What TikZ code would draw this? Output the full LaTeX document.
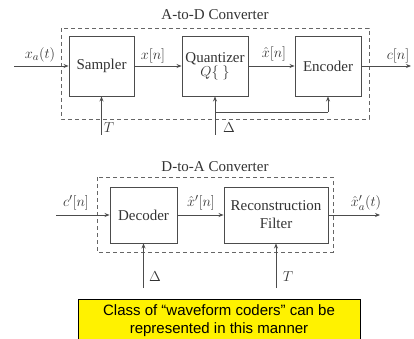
\documentclass[tikz,border=0pt]{standalone}
\usepackage{fontspec}
\setmainfont{Liberation Serif}
\newfontfamily\notefont{Liberation Sans}
\usetikzlibrary{arrows.meta}
\tikzset{
  blockbox/.style={draw=black!70,line width=0.9pt,text=black!80,align=center,inner sep=0pt},
  sig/.style={draw=black!70,line width=0.9pt,-{Stealth[length=5pt,width=4pt]}},
  wire/.style={draw=black!70,line width=0.9pt},
  lbl/.style={text=black!80,inner sep=0pt},
  convbox/.style={draw=black!60,line width=0.9pt,dash pattern=on 4pt off 3pt}
}
\begin{document}
\begin{tikzpicture}[x=1pt,y=-1pt,font=\fontsize{15}{16}\selectfont]
  \useasboundingbox (0,0) rectangle (414,339);
  \clip (0,0) rectangle (414,339);
  % A-to-D
  \node[lbl] (adtitle) at (215,15) {A-to-D Converter};
  \draw[convbox] (61,28) rectangle (369,119);
  \node[blockbox,minimum width=65pt,minimum height=60pt] (sampler) at (101.5,66) {Sampler};
  \node[blockbox,minimum width=66pt,minimum height=60pt] (quant) at (215,66) {Quantizer\\[-2pt]$Q\{\ \}$};
  \node[blockbox,minimum width=66pt,minimum height=60pt] (enc) at (328,66) {Encoder};
  \coordinate (xain) at (14,66);
  \coordinate (cout) at (411,66);
  \coordinate (tad) at (101.5,135);
  \coordinate (dad) at (215,135);
  \coordinate (dbr) at (215,112);
  \coordinate (dend) at (328,112);
  \draw[sig] (xain)--(sampler.west);
  \draw[sig] (sampler.east)--(quant.west);
  \draw[sig] (quant.east)--(enc.west);
  \draw[sig] (enc.east)--(cout);
  \draw[sig] (tad)--(sampler.south);
  \draw[sig] (dad)--(quant.south);
  \draw[wire] (dbr)--(dend);
  \draw[sig] (dend)--(enc.south);
  \node[lbl] (xalbl) at (40,55) {$x_a(t)$};
  \node[lbl] (xnlbl) at (153,56) {$x[n]$};
  \node[lbl] (xhlbl) at (274,54) {$\hat{x}[n]$};
  \node[lbl] (cnlbl) at (398,56) {$c[n]$};
  \node[lbl] (tlbl) at (109,128) {$T$};
  \node[lbl] (dlbl) at (229,128) {$\Delta$};
  % D-to-A
  \node[lbl] (datitle) at (215,167) {D-to-A Converter};
  \draw[convbox] (97,177) rectangle (333,252);
  \node[blockbox,minimum width=67pt,minimum height=56pt] (dec) at (143.5,215) {Decoder};
  \node[blockbox,minimum width=104pt,minimum height=56pt] (recon) at (276,215) {Reconstruction\\[2pt]Filter};
  \coordinate (cin) at (56,215);
  \coordinate (xout) at (380,215);
  \coordinate (dda) at (143.5,288);
  \coordinate (tda) at (276,288);
  \draw[sig] (cin)--(dec.west);
  \draw[sig] (dec.east)--(recon.west);
  \draw[sig] (recon.east)--(xout);
  \draw[sig] (dda)--(dec.south);
  \draw[sig] (tda)--(recon.south);
  \node[lbl] (cplbl) at (76,203) {$c'[n]$};
  \node[lbl] (xhplbl) at (201,203) {$\hat{x}'[n]$};
  \node[lbl] (xaplbl) at (366,203) {$\hat{x}'_a(t)$};
  \node[lbl] (d2lbl) at (155,277) {$\Delta$};
  \node[lbl] (t2lbl) at (288,277) {$T$};
  % note
  \draw[draw=black,fill=yellow,line width=0.8pt] (78,299) rectangle (360,345);
  \node[align=center,font=\notefont\fontsize{15}{18}\selectfont] (note) at (219,321) {Class of “waveform coders” can be\\represented in this manner};
\end{tikzpicture}
\end{document}
